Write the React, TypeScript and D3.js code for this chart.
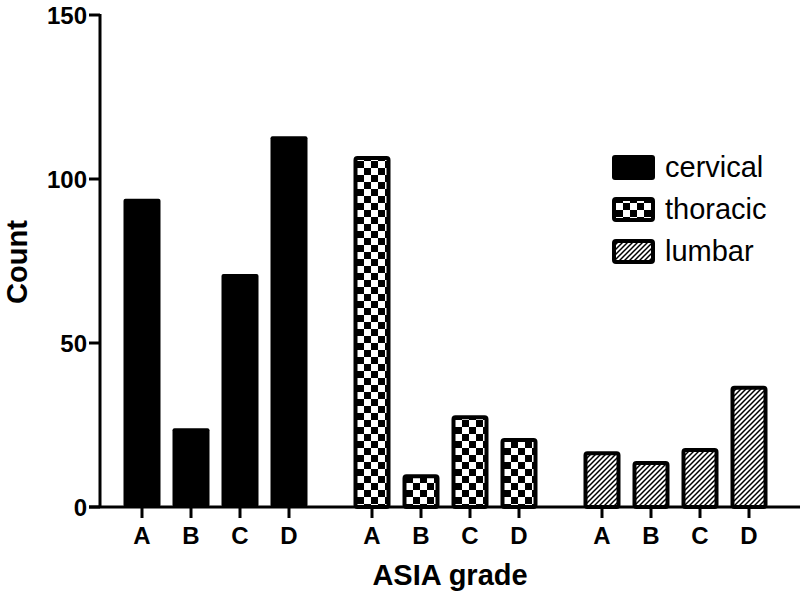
import React from "react";
import * as d3 from "d3";

const groups = ["cervical", "thoracic", "lumbar"];
const grades = ["A", "B", "C", "D"];
const cervical = [94, 24, 71, 113];
const thoracic = [107, 10, 28, 21];
const lumbar = [17, 14, 18, 37];
const yTicks = [0, 50, 100, 150];

const W = 800;
const H = 597;

export default function App() {
  const y = d3.scaleLinear().domain([0, 150]).range([507, 15]);
  const gx = d3
    .scaleBand<string>()
    .domain(groups)
    .range([117.5, 773.5])
    .paddingInner(34 / 230)
    .paddingOuter(0);
  const ix = d3
    .scaleBand<string>()
    .domain(grades)
    .range([0, gx.bandwidth()])
    .paddingInner(12 / 49)
    .paddingOuter(6 / 49);
  const series: Record<string, number[]> = { cervical, thoracic, lumbar };
  const fills: Record<string, string> = {
    cervical: "#000",
    thoracic: "url(#checker)",
    lumbar: "url(#hatch)",
  };
  const font = "'Liberation Sans', Arial, sans-serif";
  const sw = 4;

  return (
    <svg
      width={W}
      height={H}
      style={{ position: "absolute", left: 0, top: 0, background: "#fff" }}
    >
      <defs>
        <pattern id="checker" patternUnits="userSpaceOnUse" width={14} height={14}>
          <rect width={14} height={14} fill="#fff" />
          <rect width={7} height={7} fill="#000" />
          <rect x={7} y={7} width={7} height={7} fill="#000" />
        </pattern>
        <pattern id="hatch" patternUnits="userSpaceOnUse" width={5} height={5}>
          <rect width={5} height={5} fill="#fff" />
          <path d="M-1,1 l2,-2 M0,5 l5,-5 M4,6 l2,-2" stroke="#000" strokeWidth={1.5} />
        </pattern>
      </defs>

      {/* bars */}
      {groups.map((g) =>
        series[g].map((v, i) => {
          const x0 = (gx(g) as number) + (ix(grades[i]) as number);
          const bw = ix.bandwidth();
          const top = y(v);
          if (g === "cervical") {
            return (
              <rect
                key={g + i}
                x={x0}
                y={top}
                width={bw}
                height={y(0) - top}
                rx={2}
                fill="#000"
              />
            );
          }
          return (
            <rect
              key={g + i}
              x={x0 + sw / 2}
              y={top + sw / 2}
              width={bw - sw}
              height={y(0) - top - sw / 2}
              rx={2}
              fill={fills[g]}
              stroke="#000"
              strokeWidth={sw}
            />
          );
        })
      )}

      {/* y axis */}
      <line x1={100} x2={100} y1={14} y2={507} stroke="#000" strokeWidth={3} />
      {yTicks.map((t) => (
        <g key={t}>
          <line x1={89} x2={100} y1={y(t)} y2={y(t)} stroke="#000" strokeWidth={3} />
          <text
            x={87}
            y={y(t)}
            dy="0.36em"
            textAnchor="end"
            fontFamily={font}
            fontWeight="bold"
            fontSize={24}
            fill="#000"
          >
            {t}
          </text>
        </g>
      ))}

      {/* x axis */}
      <line x1={89} x2={800} y1={507} y2={507} stroke="#000" strokeWidth={3} />
      {groups.map((g) =>
        grades.map((c) => {
          const cx = (gx(g) as number) + (ix(c) as number) + ix.bandwidth() / 2;
          return (
            <g key={g + c}>
              <line x1={cx} x2={cx} y1={507} y2={518} stroke="#000" strokeWidth={3} />
              <text
                x={cx}
                y={544}
                textAnchor="middle"
                fontFamily={font}
                fontWeight="bold"
                fontSize={24}
                fill="#000"
              >
                {c}
              </text>
            </g>
          );
        })
      )}

      {/* axis titles */}
      <text
        x={450}
        y={585}
        textAnchor="middle"
        fontFamily={font}
        fontWeight="bold"
        fontSize={29}
        fill="#000"
      >
        ASIA grade
      </text>
      <text
        transform="translate(27,262) rotate(-90)"
        textAnchor="middle"
        fontFamily={font}
        fontWeight="bold"
        fontSize={29}
        fill="#000"
      >
        Count
      </text>

      {/* legend */}
      {groups.map((g, i) => {
        const by = 155 + i * 42;
        return (
          <g key={g}>
            {g === "cervical" ? (
              <rect x={612} y={by} width={43} height={25} rx={3} fill="#000" />
            ) : (
              <rect
                x={612 + sw / 2}
                y={by + sw / 2}
                width={43 - sw}
                height={25 - sw}
                rx={2}
                fill={fills[g]}
                stroke="#000"
                strokeWidth={sw}
              />
            )}
            <text
              x={665}
              y={by + 22}
              fontFamily={font}
              fontSize={29}
              fill="#000"
            >
              {g}
            </text>
          </g>
        );
      })}
    </svg>
  );
}
